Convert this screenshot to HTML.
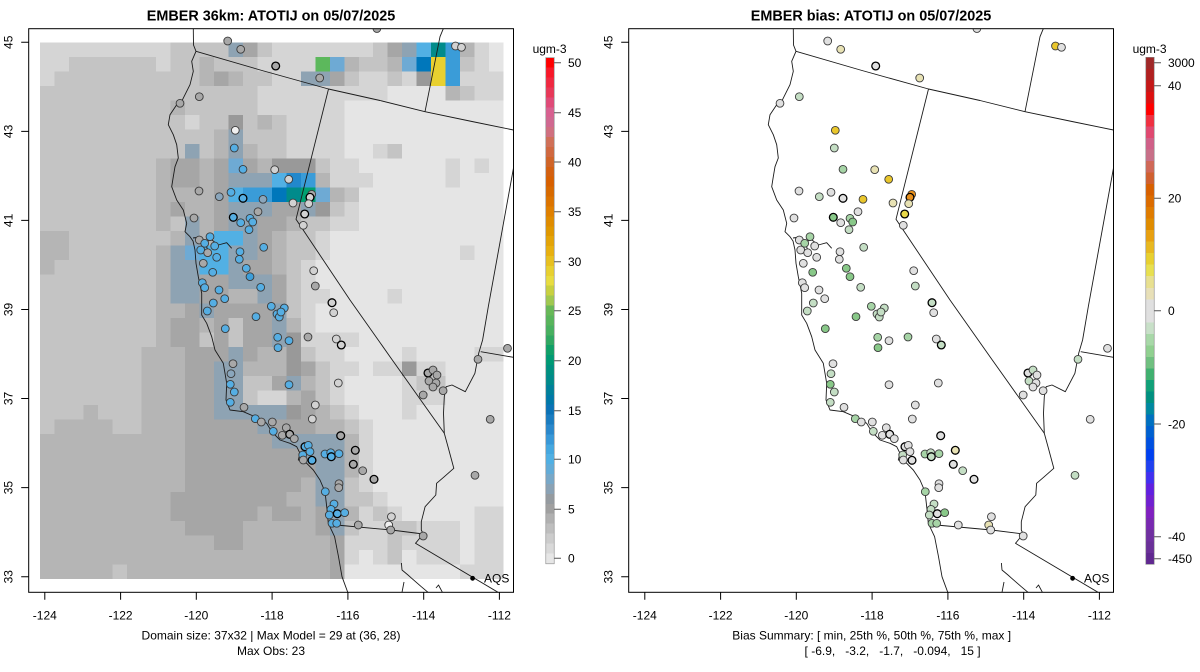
<!DOCTYPE html>
<html><head><meta charset="utf-8"><style>
html,body{margin:0;padding:0;background:#fff;}
svg{display:block;}
text{font-family:"Liberation Sans",Arial,sans-serif;fill:#000;}
.ca{fill:#e5e5e5}.cb{fill:#d5d5d5}.cc{fill:#c4c4c4}.cd{fill:#b5b5b5}.ce{fill:#a6a6a6}.cf{fill:#999999}.cg{fill:#8ea3b3}.ch{fill:#6eaad4}.ci{fill:#52b0e4}.cj{fill:#3a9cd8}.cl{fill:#2288cc}.ck{fill:#0077bb}.cm{fill:#008b8b}.cn{fill:#00a070}.cp{fill:#5cb85c}.cy{fill:#e8d030}
.pt circle{stroke:#3a3a3a;stroke-width:0.9px}
.pt circle.t{stroke:#000;stroke-width:1.3px}
.lb{fill:#55aee3}.ld{fill:#3c9fdb}.lg{fill:#a8a8a8}.ll{fill:#d2d2d2}.lw{fill:#f0f0f0}.lh{fill:#8aa6bc}
.rl{fill:#e0e0e0}.rq{fill:#c4dec4}.rr{fill:#a6d4a6}.rs{fill:#88c888}.ry{fill:#e8e2b4}.ru{fill:#e9c62c}.ro{fill:#e8901c}.rz{fill:#e8d848}
</style></head><body>
<svg xmlns="http://www.w3.org/2000/svg" width="1200" height="672" viewBox="0 0 1200 672">
<defs>
<clipPath id="cp"><rect x="28.7" y="28.7" width="484.8" height="563.6"/></clipPath>
<g id="lines" fill="none" stroke="#1a1a1a" stroke-width="0.9" stroke-linejoin="round">
<path d="M193.3,28.7 L193.5,45 L196,51.3 L191.7,61.3 L193.3,71.3 L190,84.7 L185,94.7 L181.7,101.3 L176.7,104.7 L170,114.7 L168.3,124.7 L173.3,134.7 L176.7,144.7 L178.3,158 L175,166.7 L173.3,176.7 L171.7,186.7 L176.7,200 L183.3,210 L186.7,223.3 L185,231.7 L190,236.7 L193,241 L195,250 L196,263.3 L198.3,276.7 L201.7,293.3 L201.7,303.3 L201.7,315 L206.7,323.3 L211.7,336.7 L215,350 L223.3,363.3 L225,373.3 L226.7,383.3 L226,400 L230,410 L243.3,411.7 L255,416.7 L266.7,423.3 L271.7,431.7 L280,440 L290,443.3 L296.7,446.7 L300,453.3 L298.3,460 L306.7,463.3 L313.3,470 L320,480 L325,491.7 L326.7,506.7 L328.3,523.3 L334.6,536.7 L338.5,556.7 L342,576.7 L348,593"/>
<path d="M193,238 L200,237 L205,241.7 L212,240 L218.3,245 L226.7,242.7 L231.7,248.3 M205,241.7 L207,248 L210,253.3 L206,256"/>
<path d="M196,51.3 L262,70.5 L328.5,89 L380,100.5 L425,111.7 L472,121.5 L513.5,130"/>
<path d="M425,111.7 L440,36.7 L443.3,28.7"/>
<path d="M328.5,89 L296,219.3 L350,300 L390,356.7 L444.3,433.3"/>
<path d="M513.5,168 L488.3,306.7 L482.6,340 L478.7,353.3 L474.9,373.3 L465.3,391.7 L452,385 L446.2,386.7 L444.3,396.7 L443.5,413.3 L444.3,433.3 L448,446.7 L453.8,468.3 L444.3,476.7 L436.6,483.3 L435.8,495 L425.1,506.7 L421.3,521.7 L421.3,530 L423.2,534 L415.5,543.3 L498,592.3"/>
<path d="M480.7,351.7 L513.5,357.3"/>
<path d="M336.3,525 L391.4,530 L423.2,534"/>
<path d="M401.4,563 L402,570 L408,575 L411.7,578.3 L421.3,586.7 L428,592.3 M436,588 L438.5,585 L442.4,592.3 M404,582 L402,592.3"/>
</g>
</defs>
<rect width="1200" height="672" fill="#fff"/>

<!-- LEFT PANEL -->
<g clip-path="url(#cp)">
<g transform="translate(40.2,42.3) scale(14.48,14.5)" shape-rendering="crispEdges">
<rect x="0" y="0" width="32" height="37" class="ca"/>
<path class="cb" d="M0 0h9v1h-9zM16 0h7v1h-7zM30 0h1v1h-1zM0 1h2v1h-2zM8 1h1v1h-1zM15 1h4v1h-4zM30 1h1v1h-1zM0 2h1v1h-1zM16 2h2v1h-2zM22 2h2v1h-2zM25 2h1v1h-1zM29 2h3v1h-3zM15 3h9v1h-9zM30 3h2v1h-2zM15 4h6v1h-6zM10 5h1v1h-1zM17 5h4v1h-4zM17 6h4v1h-4zM17 7h4v1h-4zM23 7h1v1h-1zM20 8h2v1h-2zM28 8h1v1h-1zM30 8h1v1h-1zM20 9h3v1h-3zM28 9h1v1h-1zM21 11h1v1h-1zM20 12h2v1h-2zM19 13h1v1h-1zM19 14h1v1h-1zM29 14h1v1h-1zM18 15h1v1h-1zM18 16h1v1h-1zM18 17h2v1h-2zM24 17h1v1h-1zM18 18h1v1h-1zM18 19h1v1h-1zM18 20h4v1h-4zM19 21h2v1h-2zM25 21h1v1h-1zM30 21h2v1h-2zM20 22h2v1h-2zM23 22h2v1h-2zM26 22h2v1h-2zM20 23h1v1h-1zM25 23h1v1h-1zM15 24h2v1h-2zM20 24h1v1h-1zM25 24h3v1h-3zM21 25h1v1h-1zM25 25h1v1h-1zM22 26h1v5h-1zM23 31h1v1h-1zM22 32h1v1h-1zM24 32h1v1h-1zM30 32h2v5h-2zM22 33h2v1h-2zM26 33h3v1h-3zM21 34h3v1h-3zM25 34h4v1h-4zM21 35h1v1h-1zM23 35h1v1h-1zM26 35h3v1h-3zM29 36h1v1h-1z"/>
<path class="cc" d="M9 0h4v1h-4zM15 0h1v1h-1zM23 0h1v1h-1zM2 1h6v1h-6zM9 1h2v1h-2zM12 1h3v1h-3zM22 1h2v1h-2zM29 1h1v1h-1zM1 2h10v1h-10zM14 2h2v1h-2zM21 2h1v1h-1zM24 2h1v1h-1zM0 3h15v1h-15zM29 3h1v1h-1zM0 4h9v1h-9zM10 4h5v1h-5zM0 5h10v1h-10zM11 5h2v1h-2zM14 5h1v1h-1zM16 5h1v1h-1zM0 6h12v1h-12zM14 6h3v1h-3zM0 7h10v1h-10zM11 7h1v1h-1zM15 7h2v1h-2zM24 7h1v1h-1zM0 8h8v5h-8zM19 8h1v1h-1zM21 10h1v1h-1zM20 11h1v1h-1zM9 12h1v1h-1zM18 12h2v1h-2zM2 13h7v1h-7zM17 13h2v1h-2zM2 14h6v1h-6zM17 14h2v1h-2zM1 15h7v1h-7zM17 15h1v1h-1zM0 16h8v5h-8zM17 16h1v3h-1zM13 19h1v2h-1zM11 20h1v1h-1zM0 21h7v4h-7zM18 21h1v1h-1zM19 22h1v3h-1zM14 23h2v1h-2zM26 23h2v1h-2zM14 24h1v1h-1zM0 25h3v1h-3zM4 25h3v1h-3zM20 25h1v1h-1zM0 26h1v1h-1zM5 26h2v1h-2zM21 26h1v1h-1zM21 30h1v1h-1zM21 31h2v1h-2zM23 32h1v1h-1zM21 33h1v1h-1zM24 33h2v1h-2zM24 34h1v2h-1zM5 36h1v1h-1z"/>
<path class="cd" d="M29 0h1v1h-1zM11 1h1v1h-1zM21 1h1v1h-1zM24 1h1v1h-1zM11 2h1v1h-1zM13 2h1v1h-1zM28 3h1v1h-1zM9 4h1v1h-1zM15 5h1v1h-1zM12 6h1v2h-1zM14 7h1v1h-1zM8 8h1v1h-1zM11 8h1v1h-1zM15 8h1v1h-1zM8 9h1v1h-1zM11 9h1v1h-1zM19 9h1v1h-1zM8 10h4v1h-4zM20 10h1v1h-1zM8 11h1v1h-1zM10 11h2v1h-2zM8 12h1v1h-1zM11 12h1v1h-1zM17 12h1v1h-1zM0 13h2v2h-2zM9 13h1v1h-1zM11 13h1v1h-1zM16 13h1v3h-1zM8 14h1v7h-1zM9 18h1v1h-1zM0 15h1v1h-1zM13 17h2v1h-2zM11 19h1v1h-1zM17 19h1v1h-1zM7 21h3v5h-3zM15 21h2v1h-2zM14 22h3v1h-3zM18 23h1v1h-1zM17 24h1v1h-1zM3 25h1v1h-1zM19 25h1v1h-1zM1 26h4v1h-4zM7 26h3v1h-3zM19 26h2v1h-2zM0 27h10v3h-10zM21 27h1v3h-1zM0 30h10v1h-10zM18 30h1v1h-1zM0 31h9v2h-9zM17 31h2v1h-2zM15 32h1v1h-1zM18 32h1v1h-1zM21 32h1v1h-1zM0 33h10v1h-10zM14 33h5v1h-5zM0 34h12v1h-12zM14 34h6v1h-6zM0 35h20v1h-20zM0 36h5v1h-5zM6 36h14v1h-14z"/>
<path class="ce" d="M14 0h1v1h-1zM24 0h1v1h-1zM12 2h1v1h-1zM20 2h1v1h-1zM9 8h2v2h-2zM12 8h1v5h-1zM14 8h1v1h-1zM9 11h1v1h-1zM16 11h2v1h-2zM15 12h2v1h-2zM15 13h1v2h-1zM14 15h2v1h-2zM11 16h2v2h-2zM16 16h1v2h-1zM10 18h1v1h-1zM12 18h4v1h-4zM9 19h2v2h-2zM12 19h1v2h-1zM14 19h2v2h-2zM10 21h3v1h-3zM14 21h1v1h-1zM10 22h2v4h-2zM18 22h1v1h-1zM16 23h1v1h-1zM18 24h1v2h-1zM10 26h5v1h-5zM16 26h3v1h-3zM10 27h6v1h-6zM10 28h8v1h-8zM10 29h9v1h-9zM10 30h8v1h-8zM9 31h8v1h-8zM9 32h6v1h-6zM16 32h2v1h-2zM19 32h1v2h-1zM10 33h4v1h-4zM12 34h2v1h-2zM20 34h1v3h-1z"/>
<path class="cf" d="M26 2h1v1h-1zM13 5h1v1h-1zM16 8h3v1h-3zM19 11h1v1h-1zM17 20h1v3h-1zM25 22h1v1h-1zM17 25h1v1h-1z"/>
<path class="cg" d="M13 0h1v1h-1zM25 0h1v1h-1zM18 2h2v1h-2zM13 6h1v2h-1zM10 7h1v1h-1zM13 9h3v1h-3zM13 11h3v1h-3zM18 11h1v1h-1zM10 12h1v2h-1zM13 12h2v1h-2zM14 13h1v1h-1zM9 14h1v1h-1zM13 14h2v1h-2zM9 15h2v3h-2zM13 15h1v1h-1zM13 16h3v1h-3zM15 17h1v1h-1zM11 18h1v1h-1zM16 18h1v3h-1zM13 21h1v1h-1zM12 22h2v3h-2zM17 23h1v1h-1zM12 25h5v1h-5zM15 26h1v1h-1zM16 27h5v1h-5zM18 28h3v1h-3zM19 29h2v3h-2zM20 32h1v2h-1z"/>
<path class="ch" d="M20 1h1v1h-1zM25 1h1v1h-1zM13 8h1v1h-1zM19 10h1v1h-1zM10 14h1v1h-1z"/>
<path class="ci" d="M26 0h1v1h-1zM16 9h1v1h-1zM13 10h1v1h-1zM12 13h2v1h-2zM11 14h2v2h-2z"/>
<path class="cj" d="M28 0h1v3h-1zM18 9h1v1h-1zM14 10h2v1h-2z"/>
<path class="cl" d="M17 9h1v1h-1z"/>
<path class="ck" d="M26 1h1v1h-1zM16 10h1v1h-1z"/>
<path class="cm" d="M27 0h1v1h-1zM17 10h1v1h-1z"/>
<path class="cn" d="M18 10h1v1h-1z"/>
<path class="cp" d="M19 1h1v1h-1z"/>
<path class="cy" d="M27 1h1v2h-1z"/>
</g>
<use href="#lines"/>
<g class="pt">
<circle cx="227.7" cy="41" r="3.9" class="lg"/><circle cx="240.7" cy="49.3" r="3.9" class="lg"/><circle cx="275.7" cy="66" r="3.9" class="lg t"/><circle cx="319.7" cy="78" r="3.9" class="lg"/><circle cx="376.9" cy="28.5" r="3.9" class="lg"/>
<circle cx="455.5" cy="46" r="3.9" class="ll"/><circle cx="461.5" cy="47.3" r="3.9" class="ll"/><circle cx="199.3" cy="96.7" r="3.9" class="lg"/><circle cx="180" cy="103.3" r="3.9" class="lg"/><circle cx="235.3" cy="130.3" r="3.9" class="lw"/>
<circle cx="234.3" cy="148" r="3.9" class="lb"/><circle cx="243" cy="169.3" r="3.9" class="lb"/><circle cx="274.7" cy="169.7" r="3.9" class="ll"/><circle cx="288.7" cy="179.3" r="3.9" class="ll"/><circle cx="199" cy="191" r="3.9" class="lg"/>
<circle cx="219.3" cy="196.7" r="3.9" class="lh"/><circle cx="231" cy="192.3" r="3.9" class="lb"/><circle cx="243" cy="198.3" r="3.9" class="lb t"/><circle cx="263" cy="199.3" r="3.9" class="lh"/><circle cx="293" cy="203" r="3.9" class="ll"/>
<circle cx="311.7" cy="194.3" r="3.9" class="lg"/><circle cx="310" cy="197.3" r="3.9" class="ll t"/><circle cx="308.7" cy="203.7" r="3.9" class="ll"/><circle cx="304.7" cy="214" r="3.9" class="ll t"/><circle cx="303.3" cy="225.3" r="3.9" class="ll"/>
<circle cx="258" cy="211.7" r="3.9" class="lg"/><circle cx="194" cy="218" r="3.9" class="lg"/><circle cx="233.3" cy="217.3" r="3.9" class="lb t"/><circle cx="240.7" cy="222.7" r="3.9" class="lb"/><circle cx="250" cy="218.3" r="3.9" class="lb"/>
<circle cx="252.7" cy="222" r="3.9" class="lb"/><circle cx="249" cy="229.7" r="3.9" class="lb"/><circle cx="199.3" cy="240" r="3.9" class="lg"/><circle cx="204.7" cy="243.3" r="3.9" class="lb"/><circle cx="210" cy="236.7" r="3.9" class="lb"/>
<circle cx="214.7" cy="246" r="3.9" class="lb"/><circle cx="200.7" cy="250" r="3.9" class="lb"/><circle cx="207.7" cy="252.7" r="3.9" class="lg"/><circle cx="216.7" cy="257.3" r="3.9" class="lb"/><circle cx="203.3" cy="263.3" r="3.9" class="lg"/>
<circle cx="240" cy="251.7" r="3.9" class="lb"/><circle cx="239.3" cy="259.3" r="3.9" class="lb"/><circle cx="263.7" cy="247.3" r="3.9" class="lb"/><circle cx="212.7" cy="272.3" r="3.9" class="lb"/><circle cx="246.3" cy="268.3" r="3.9" class="lb"/>
<circle cx="250" cy="276.7" r="3.9" class="ld"/><circle cx="202.3" cy="282.7" r="3.9" class="lb"/><circle cx="204.7" cy="287.7" r="3.9" class="lb"/><circle cx="219" cy="290" r="3.9" class="lb"/><circle cx="260.7" cy="287.3" r="3.9" class="lb"/>
<circle cx="313.7" cy="270.7" r="3.9" class="ll"/><circle cx="315.3" cy="286" r="3.9" class="lg"/><circle cx="224.7" cy="298.7" r="3.9" class="lb"/><circle cx="213.3" cy="303" r="3.9" class="lb"/><circle cx="207.3" cy="311" r="3.9" class="lb"/>
<circle cx="271.3" cy="306.3" r="3.9" class="lb"/><circle cx="284.3" cy="308" r="3.9" class="lb"/><circle cx="256" cy="316.7" r="3.9" class="lb"/><circle cx="277" cy="314" r="3.9" class="lb"/><circle cx="279.3" cy="317" r="3.9" class="lb"/>
<circle cx="281" cy="312" r="3.9" class="lb"/><circle cx="332" cy="302.7" r="3.9" class="ll t"/><circle cx="333.7" cy="312.7" r="3.9" class="ll"/><circle cx="225.3" cy="328.7" r="3.9" class="lb"/><circle cx="277.7" cy="337.3" r="3.9" class="lb"/>
<circle cx="289" cy="340.7" r="3.9" class="lb"/><circle cx="278" cy="347.7" r="3.9" class="lb"/><circle cx="308" cy="337" r="3.9" class="lg"/><circle cx="336.3" cy="339" r="3.9" class="ll"/><circle cx="341.3" cy="345" r="3.9" class="ll t"/>
<circle cx="233" cy="363.7" r="3.9" class="lg"/><circle cx="231" cy="373.7" r="3.9" class="lh"/><circle cx="230.3" cy="384.3" r="3.9" class="lb"/><circle cx="234.3" cy="392" r="3.9" class="lb"/><circle cx="230.3" cy="402.3" r="3.9" class="lb"/>
<circle cx="244" cy="407.3" r="3.9" class="lg"/><circle cx="289" cy="384.7" r="3.9" class="lb"/><circle cx="338.3" cy="383" r="3.9" class="ll"/><circle cx="315.3" cy="405" r="3.9" class="ll"/><circle cx="312.3" cy="419" r="3.9" class="ll"/>
<circle cx="255.3" cy="418.7" r="3.9" class="lb"/><circle cx="261.3" cy="422" r="3.9" class="lg"/><circle cx="272.3" cy="422" r="3.9" class="lg"/><circle cx="273.3" cy="431.3" r="3.9" class="lb"/><circle cx="286.3" cy="427.7" r="3.9" class="lg"/>
<circle cx="282.3" cy="435.3" r="3.9" class="lg"/><circle cx="289.7" cy="434.3" r="3.9" class="lg t"/><circle cx="294.3" cy="438.7" r="3.9" class="lg"/><circle cx="340.7" cy="435.7" r="3.9" class="lg t"/><circle cx="305" cy="446.7" r="3.9" class="lb t"/>
<circle cx="308.3" cy="445.3" r="3.9" class="lb"/><circle cx="310" cy="451.7" r="3.9" class="lb"/><circle cx="302.7" cy="455" r="3.9" class="lb"/><circle cx="303.3" cy="460" r="3.9" class="lg"/><circle cx="312" cy="460.3" r="3.9" class="lb t"/>
<circle cx="325" cy="454" r="3.9" class="lb"/><circle cx="330.7" cy="452.7" r="3.9" class="lb"/><circle cx="331.3" cy="456.7" r="3.9" class="lb t"/><circle cx="339" cy="453.7" r="3.9" class="lb"/><circle cx="355.3" cy="450.3" r="3.9" class="lg t"/>
<circle cx="353.3" cy="464.3" r="3.9" class="lg t"/><circle cx="362.7" cy="470.7" r="3.9" class="lg"/><circle cx="374" cy="479.3" r="3.9" class="lg t"/><circle cx="339" cy="483.7" r="3.9" class="lg"/><circle cx="338.7" cy="487.7" r="3.9" class="lg"/>
<circle cx="325.3" cy="491.7" r="3.9" class="lb"/><circle cx="334" cy="504" r="3.9" class="lb"/><circle cx="331" cy="509.3" r="3.9" class="lb"/><circle cx="329.3" cy="515" r="3.9" class="lb"/><circle cx="337.3" cy="513.7" r="3.9" class="lb t"/>
<circle cx="344.7" cy="512.7" r="3.9" class="lb"/><circle cx="332" cy="523.3" r="3.9" class="lb"/><circle cx="336.7" cy="523.3" r="3.9" class="lb"/><circle cx="358.3" cy="525" r="3.9" class="lg"/><circle cx="391.4" cy="516.7" r="3.9" class="ll"/>
<circle cx="388.7" cy="525" r="3.9" class="lw"/><circle cx="390.7" cy="530" r="3.9" class="lg"/><circle cx="423.2" cy="536" r="3.9" class="lg"/>
<circle cx="428" cy="373" r="3.9" class="lg t"/><circle cx="433" cy="370" r="3.9" class="lg"/><circle cx="437" cy="375" r="3.9" class="lg"/><circle cx="429" cy="381" r="3.9" class="lg"/><circle cx="436" cy="383" r="3.9" class="lg"/><circle cx="433" cy="387" r="3.9" class="lg"/>
<circle cx="423.2" cy="395" r="3.9" class="lg"/><circle cx="443.1" cy="390.7" r="3.9" class="lg"/><circle cx="478" cy="359.3" r="3.9" class="lg"/><circle cx="507.5" cy="348.3" r="3.9" class="lg"/><circle cx="490.2" cy="419.3" r="3.9" class="lg"/><circle cx="475" cy="475.3" r="3.9" class="lg"/>
</g>
</g>

<!-- RIGHT PANEL -->
<g transform="translate(600,0)"><g clip-path="url(#cp)">
<use href="#lines"/>
<g class="pt">
<circle cx="227.7" cy="41" r="3.9" class="rl"/><circle cx="240.7" cy="49.3" r="3.9" class="ry"/><circle cx="275.7" cy="66" r="3.9" class="rl t"/><circle cx="319.7" cy="78" r="3.9" class="ry"/><circle cx="376.9" cy="28.5" r="3.9" class="rl"/>
<circle cx="455.5" cy="46" r="3.9" class="ru"/><circle cx="461.5" cy="47.3" r="3.9" class="rl"/><circle cx="199.3" cy="96.7" r="3.9" class="rq"/><circle cx="180" cy="103.3" r="3.9" class="rl"/><circle cx="235.3" cy="130.3" r="3.9" class="ru"/>
<circle cx="234.3" cy="148" r="3.9" class="rq"/><circle cx="243" cy="169.3" r="3.9" class="rr"/><circle cx="274.7" cy="169.7" r="3.9" class="ry"/><circle cx="288.7" cy="179.3" r="3.9" class="ru"/><circle cx="199" cy="191" r="3.9" class="rl"/>
<circle cx="219.3" cy="196.7" r="3.9" class="rq"/><circle cx="231" cy="192.3" r="3.9" class="rl"/><circle cx="243" cy="198.3" r="3.9" class="rl t"/><circle cx="263" cy="199.3" r="3.9" class="ru"/><circle cx="293" cy="203" r="3.9" class="ry"/>
<circle cx="311.7" cy="194.3" r="3.9" class="ro"/><circle cx="310" cy="197.3" r="3.9" class="ro t"/><circle cx="308.7" cy="203.7" r="3.9" class="ry"/><circle cx="304.7" cy="214" r="3.9" class="rz t"/><circle cx="303.3" cy="225.3" r="3.9" class="rl"/>
<circle cx="258" cy="211.7" r="3.9" class="rl"/><circle cx="194" cy="218" r="3.9" class="rl"/><circle cx="233.3" cy="217.3" r="3.9" class="rs t"/><circle cx="240.7" cy="222.7" r="3.9" class="rl"/><circle cx="250" cy="218.3" r="3.9" class="rr"/>
<circle cx="252.7" cy="222" r="3.9" class="rs"/><circle cx="249" cy="229.7" r="3.9" class="rq"/><circle cx="199.3" cy="240" r="3.9" class="rl"/><circle cx="204.7" cy="243.3" r="3.9" class="rr"/><circle cx="210" cy="236.7" r="3.9" class="rr"/>
<circle cx="214.7" cy="246" r="3.9" class="rl"/><circle cx="200.7" cy="250" r="3.9" class="rl"/><circle cx="207.7" cy="252.7" r="3.9" class="rl"/><circle cx="216.7" cy="257.3" r="3.9" class="rl"/><circle cx="203.3" cy="263.3" r="3.9" class="rl"/>
<circle cx="240" cy="251.7" r="3.9" class="rl"/><circle cx="239.3" cy="259.3" r="3.9" class="rl"/><circle cx="263.7" cy="247.3" r="3.9" class="rq"/><circle cx="212.7" cy="272.3" r="3.9" class="rs"/><circle cx="246.3" cy="268.3" r="3.9" class="rs"/>
<circle cx="250" cy="276.7" r="3.9" class="rs"/><circle cx="202.3" cy="282.7" r="3.9" class="rl"/><circle cx="204.7" cy="287.7" r="3.9" class="rl"/><circle cx="219" cy="290" r="3.9" class="rl"/><circle cx="260.7" cy="287.3" r="3.9" class="rq"/>
<circle cx="313.7" cy="270.7" r="3.9" class="rl"/><circle cx="315.3" cy="286" r="3.9" class="rq"/><circle cx="224.7" cy="298.7" r="3.9" class="rl"/><circle cx="213.3" cy="303" r="3.9" class="rq"/><circle cx="207.3" cy="311" r="3.9" class="rq"/>
<circle cx="271.3" cy="306.3" r="3.9" class="rr"/><circle cx="284.3" cy="308" r="3.9" class="rq"/><circle cx="256" cy="316.7" r="3.9" class="rs"/><circle cx="277" cy="314" r="3.9" class="rq"/><circle cx="279.3" cy="317" r="3.9" class="rq"/>
<circle cx="281" cy="312" r="3.9" class="rq"/><circle cx="332" cy="302.7" r="3.9" class="rq t"/><circle cx="333.7" cy="312.7" r="3.9" class="rl"/><circle cx="225.3" cy="328.7" r="3.9" class="rs"/><circle cx="277.7" cy="337.3" r="3.9" class="rr"/>
<circle cx="289" cy="340.7" r="3.9" class="rl"/><circle cx="278" cy="347.7" r="3.9" class="rs"/><circle cx="308" cy="337" r="3.9" class="rr"/><circle cx="336.3" cy="339" r="3.9" class="rl"/><circle cx="341.3" cy="345" r="3.9" class="rq t"/>
<circle cx="233" cy="363.7" r="3.9" class="rl"/><circle cx="231" cy="373.7" r="3.9" class="rq"/><circle cx="230.3" cy="384.3" r="3.9" class="rs"/><circle cx="234.3" cy="392" r="3.9" class="rq"/><circle cx="230.3" cy="402.3" r="3.9" class="rq"/>
<circle cx="244" cy="407.3" r="3.9" class="rl"/><circle cx="289" cy="384.7" r="3.9" class="rl"/><circle cx="338.3" cy="383" r="3.9" class="rl"/><circle cx="315.3" cy="405" r="3.9" class="rl"/><circle cx="312.3" cy="419" r="3.9" class="rl"/>
<circle cx="255.3" cy="418.7" r="3.9" class="rr"/><circle cx="261.3" cy="422" r="3.9" class="rl"/><circle cx="272.3" cy="422" r="3.9" class="rl"/><circle cx="273.3" cy="431.3" r="3.9" class="rq"/><circle cx="286.3" cy="427.7" r="3.9" class="rl"/>
<circle cx="282.3" cy="435.3" r="3.9" class="rl"/><circle cx="289.7" cy="434.3" r="3.9" class="rl t"/><circle cx="294.3" cy="438.7" r="3.9" class="rl"/><circle cx="340.7" cy="435.7" r="3.9" class="rl t"/><circle cx="305" cy="446.7" r="3.9" class="rl t"/>
<circle cx="308.3" cy="445.3" r="3.9" class="rl"/><circle cx="310" cy="451.7" r="3.9" class="rl"/><circle cx="302.7" cy="455" r="3.9" class="rq"/><circle cx="303.3" cy="460" r="3.9" class="rl"/><circle cx="312" cy="460.3" r="3.9" class="rl t"/>
<circle cx="325" cy="454" r="3.9" class="rr"/><circle cx="330.7" cy="452.7" r="3.9" class="rq"/><circle cx="331.3" cy="456.7" r="3.9" class="rq t"/><circle cx="339" cy="453.7" r="3.9" class="rr"/><circle cx="355.3" cy="450.3" r="3.9" class="ry t"/>
<circle cx="353.3" cy="464.3" r="3.9" class="rl t"/><circle cx="362.7" cy="470.7" r="3.9" class="rq"/><circle cx="374" cy="479.3" r="3.9" class="rl t"/><circle cx="339" cy="483.7" r="3.9" class="rl"/><circle cx="338.7" cy="487.7" r="3.9" class="rl"/>
<circle cx="325.3" cy="491.7" r="3.9" class="rr"/><circle cx="334" cy="504" r="3.9" class="rq"/><circle cx="331" cy="509.3" r="3.9" class="rq"/><circle cx="329.3" cy="515" r="3.9" class="rq"/><circle cx="337.3" cy="513.7" r="3.9" class="rl t"/>
<circle cx="344.7" cy="512.7" r="3.9" class="rs"/><circle cx="332" cy="523.3" r="3.9" class="rr"/><circle cx="336.7" cy="523.3" r="3.9" class="rr"/><circle cx="358.3" cy="525" r="3.9" class="rl"/><circle cx="391.4" cy="516.7" r="3.9" class="rl"/>
<circle cx="388.7" cy="525" r="3.9" class="ry"/><circle cx="390.7" cy="530" r="3.9" class="rl"/><circle cx="423.2" cy="536" r="3.9" class="rl"/>
<circle cx="428" cy="373" r="3.9" class="rl t"/><circle cx="433" cy="370" r="3.9" class="rq"/><circle cx="437" cy="375" r="3.9" class="rl"/><circle cx="429" cy="381" r="3.9" class="rq"/><circle cx="436" cy="383" r="3.9" class="rl"/><circle cx="433" cy="387" r="3.9" class="rl"/>
<circle cx="423.2" cy="395" r="3.9" class="rl"/><circle cx="443.1" cy="390.7" r="3.9" class="rl"/><circle cx="478" cy="359.3" r="3.9" class="rq"/><circle cx="507.5" cy="348.3" r="3.9" class="rl"/><circle cx="490.2" cy="419.3" r="3.9" class="rl"/><circle cx="475" cy="475.3" r="3.9" class="rq"/>
</g>
</g></g>

<!-- boxes -->
<rect x="28.7" y="28.7" width="484.8" height="563.6" fill="none" stroke="#000" stroke-width="1"/>
<rect x="628.7" y="28.7" width="484.8" height="563.6" fill="none" stroke="#000" stroke-width="1"/>

<!-- ticks -->
<path fill="none" stroke="#000" stroke-width="1" d="M44.8 592.3v7.5M120.6 592.3v7.5M196.3 592.3v7.5M272.1 592.3v7.5M347.9 592.3v7.5M423.7 592.3v7.5M499.4 592.3v7.5M644.8 592.3v7.5M720.6 592.3v7.5M796.3 592.3v7.5M872.1 592.3v7.5M947.9 592.3v7.5M1023.7 592.3v7.5M1099.4 592.3v7.5M21.2 42.3h7.5M21.2 131.4h7.5M21.2 220.4h7.5M21.2 309.5h7.5M21.2 398.5h7.5M21.2 487.6h7.5M21.2 576.7h7.5M621.2 42.3h7.5M621.2 131.4h7.5M621.2 220.4h7.5M621.2 309.5h7.5M621.2 398.5h7.5M621.2 487.6h7.5M621.2 576.7h7.5"/>

<!-- AQS -->
<circle cx="472.6" cy="578.3" r="2.4" fill="#000"/>
<text x="484" y="582.5" font-size="12">AQS</text>
<circle cx="1072.6" cy="578.3" r="2.4" fill="#000"/>
<text x="1084" y="582.5" font-size="12">AQS</text>

<!-- titles -->
<text x="271" y="20.3" font-size="14.4" font-weight="bold" text-anchor="middle">EMBER 36km: ATOTIJ on 05/07/2025</text>
<text x="871" y="20.3" font-size="14.4" font-weight="bold" text-anchor="middle">EMBER bias: ATOTIJ on 05/07/2025</text>

<g font-size="12" text-anchor="middle">
<text x="44.8" y="619.3">-124</text><text x="120.6" y="619.3">-122</text><text x="196.3" y="619.3">-120</text><text x="272.1" y="619.3">-118</text><text x="347.9" y="619.3">-116</text><text x="423.7" y="619.3">-114</text><text x="499.4" y="619.3">-112</text>
<text x="644.8" y="619.3">-124</text><text x="720.6" y="619.3">-122</text><text x="796.3" y="619.3">-120</text><text x="872.1" y="619.3">-118</text><text x="947.9" y="619.3">-116</text><text x="1023.7" y="619.3">-114</text><text x="1099.4" y="619.3">-112</text>
<text transform="translate(12.5,42.3) rotate(-90)">45</text>
<text transform="translate(12.5,131.4) rotate(-90)">43</text>
<text transform="translate(12.5,220.4) rotate(-90)">41</text>
<text transform="translate(12.5,309.5) rotate(-90)">39</text>
<text transform="translate(12.5,398.5) rotate(-90)">37</text>
<text transform="translate(12.5,487.6) rotate(-90)">35</text>
<text transform="translate(12.5,576.7) rotate(-90)">33</text>
<text transform="translate(612.5,42.3) rotate(-90)">45</text>
<text transform="translate(612.5,131.4) rotate(-90)">43</text>
<text transform="translate(612.5,220.4) rotate(-90)">41</text>
<text transform="translate(612.5,309.5) rotate(-90)">39</text>
<text transform="translate(612.5,398.5) rotate(-90)">37</text>
<text transform="translate(612.5,487.6) rotate(-90)">35</text>
<text transform="translate(612.5,576.7) rotate(-90)">33</text>
<text x="271" y="639.5">Domain size: 37x32 | Max Model = 29 at (36, 28)</text>
<text x="271" y="655">Max Obs: 23</text>
<text x="871.7" y="639.5">Bias Summary: [ min, 25th %, 50th %, 75th %, max ]</text>
<text x="892.6" y="655" xml:space="preserve" style="white-space:pre">[ -6.9,   -3.2,   -1.7,   -0.094,   15 ]</text>
<text x="549.6" y="53">ugm-3</text>
<text x="1149.6" y="53">ugm-3</text>
</g>

<!-- left colorbar -->
<g transform="translate(545.8,57.75) scale(1,9.912)" shape-rendering="crispEdges">
<rect y="0" width="8.4" height="1.05" fill="#ff0000"/><rect y="1" width="8.4" height="1.05" fill="#f81828"/><rect y="2" width="8.4" height="1.05" fill="#f02840"/><rect y="3" width="8.4" height="1.05" fill="#e83858"/><rect y="4" width="8.4" height="1.05" fill="#e04a78"/>
<rect y="5" width="8.4" height="1.05" fill="#d86090"/><rect y="6" width="8.4" height="1.05" fill="#d06890"/><rect y="7" width="8.4" height="1.05" fill="#d07080"/><rect y="8" width="8.4" height="1.05" fill="#d07058"/><rect y="9" width="8.4" height="1.05" fill="#d06840"/>
<rect y="10" width="8.4" height="1.05" fill="#d06428"/><rect y="11" width="8.4" height="1.05" fill="#d46010"/><rect y="12" width="8.4" height="1.05" fill="#d86000"/><rect y="13" width="8.4" height="1.05" fill="#d86a00"/><rect y="14" width="8.4" height="1.05" fill="#dc7400"/>
<rect y="15" width="8.4" height="1.05" fill="#e08000"/><rect y="16" width="8.4" height="1.05" fill="#e08c00"/><rect y="17" width="8.4" height="1.05" fill="#e09800"/><rect y="18" width="8.4" height="1.05" fill="#e4a408"/><rect y="19" width="8.4" height="1.05" fill="#e8b010"/>
<rect y="20" width="8.4" height="1.05" fill="#e8c020"/><rect y="21" width="8.4" height="1.05" fill="#e8d030"/><rect y="22" width="8.4" height="1.05" fill="#e8dc40"/><rect y="23" width="8.4" height="1.05" fill="#c8d040"/><rect y="24" width="8.4" height="1.05" fill="#a0c850"/>
<rect y="25" width="8.4" height="1.05" fill="#68b858"/><rect y="26" width="8.4" height="1.05" fill="#58b45c"/><rect y="27" width="8.4" height="1.05" fill="#48b060"/><rect y="28" width="8.4" height="1.05" fill="#30a862"/><rect y="29" width="8.4" height="1.05" fill="#10a068"/>
<rect y="30" width="8.4" height="1.05" fill="#009a74"/><rect y="31" width="8.4" height="1.05" fill="#009080"/><rect y="32" width="8.4" height="1.05" fill="#008a8a"/><rect y="33" width="8.4" height="1.05" fill="#00809a"/><rect y="34" width="8.4" height="1.05" fill="#0078a8"/>
<rect y="35" width="8.4" height="1.05" fill="#0a72b6"/><rect y="36" width="8.4" height="1.05" fill="#1a7cc0"/><rect y="37" width="8.4" height="1.05" fill="#2a88cc"/><rect y="38" width="8.4" height="1.05" fill="#3898d8"/><rect y="39" width="8.4" height="1.05" fill="#45a8e0"/>
<rect y="40" width="8.4" height="1.05" fill="#50b0e4"/><rect y="41" width="8.4" height="1.05" fill="#62acd8"/><rect y="42" width="8.4" height="1.05" fill="#78a8c8"/><rect y="43" width="8.4" height="1.05" fill="#8aa2b5"/><rect y="44" width="8.4" height="1.05" fill="#959ba0"/>
<rect y="45" width="8.4" height="1.05" fill="#a0a0a0"/><rect y="46" width="8.4" height="1.05" fill="#b0b0b0"/><rect y="47" width="8.4" height="1.05" fill="#bebebe"/><rect y="48" width="8.4" height="1.05" fill="#cccccc"/><rect y="49" width="8.4" height="1.05" fill="#d9d9d9"/>
<rect y="50" width="8.4" height="1" fill="#e6e6e6"/>
</g>
<rect x="545.8" y="57.5" width="8.4" height="506.3" fill="none" stroke="#888" stroke-width="0.6"/>

<!-- right colorbar -->
<g transform="translate(1145.8,57.3) scale(1,11.523)" shape-rendering="crispEdges">
<rect y="0" width="8.4" height="1.05" fill="#a02828"/><rect y="1" width="8.4" height="1.05" fill="#b02020"/><rect y="2" width="8.4" height="1.05" fill="#c41818"/><rect y="3" width="8.4" height="1.05" fill="#dc1010"/><rect y="4" width="8.4" height="1.05" fill="#ff0000"/>
<rect y="5" width="8.4" height="1.05" fill="#f03040"/><rect y="6" width="8.4" height="1.05" fill="#e04870"/><rect y="7" width="8.4" height="1.05" fill="#d06088"/><rect y="8" width="8.4" height="1.05" fill="#c87088"/><rect y="9" width="8.4" height="1.05" fill="#d06858"/>
<rect y="10" width="8.4" height="1.05" fill="#d06030"/><rect y="11" width="8.4" height="1.05" fill="#d86000"/><rect y="12" width="8.4" height="1.05" fill="#dc6c00"/><rect y="13" width="8.4" height="1.05" fill="#e07c00"/><rect y="14" width="8.4" height="1.05" fill="#e08c00"/>
<rect y="15" width="8.4" height="1.05" fill="#e8a010"/><rect y="16" width="8.4" height="1.05" fill="#e8b820"/><rect y="17" width="8.4" height="1.05" fill="#e8d030"/><rect y="18" width="8.4" height="1.05" fill="#e8e050"/><rect y="19" width="8.4" height="1.05" fill="#e8e090"/>
<rect y="20" width="8.4" height="1.05" fill="#e8e0b8"/><rect y="21" width="8.4" height="2.05" fill="#e0e0e0"/><rect y="23" width="8.4" height="1.05" fill="#c8e0c8"/><rect y="24" width="8.4" height="1.05" fill="#a8d8a8"/>
<rect y="25" width="8.4" height="1.05" fill="#90d090"/><rect y="26" width="8.4" height="1.05" fill="#70c080"/><rect y="27" width="8.4" height="1.05" fill="#40b070"/><rect y="28" width="8.4" height="1.05" fill="#10a078"/><rect y="29" width="8.4" height="1.05" fill="#009080"/>
<rect y="30" width="8.4" height="1.05" fill="#0088a0"/><rect y="31" width="8.4" height="1.05" fill="#0070c0"/><rect y="32" width="8.4" height="1.05" fill="#0060d0"/><rect y="33" width="8.4" height="1.05" fill="#0050e0"/><rect y="34" width="8.4" height="1.05" fill="#0040f0"/>
<rect y="35" width="8.4" height="1.05" fill="#2040f0"/><rect y="36" width="8.4" height="1.05" fill="#4030f0"/><rect y="37" width="8.4" height="1.05" fill="#6020e0"/><rect y="38" width="8.4" height="1.05" fill="#7020d0"/><rect y="39" width="8.4" height="1.05" fill="#8020c0"/>
<rect y="40" width="8.4" height="1.05" fill="#7828b0"/><rect y="41" width="8.4" height="1.05" fill="#7030a0"/><rect y="42" width="8.4" height="1.05" fill="#6a3098"/><rect y="43" width="8.4" height="1" fill="#602890"/>
</g>
<rect x="1145.8" y="57.3" width="8.4" height="507" fill="none" stroke="#888" stroke-width="0.6"/>

<!-- colorbar ticks -->
<path fill="none" stroke="#555" stroke-width="1" d="M554.2 62.7h6.8M554.2 112.7h6.8M554.2 162h6.8M554.2 211.7h6.8M554.2 261.7h6.8M554.2 310.7h6.8M554.2 360.7h6.8M554.2 410.7h6.8M554.2 459.3h6.8M554.2 509.3h6.8M554.2 558.3h6.8M1154.2 62.7h6.8M1154.2 85.7h6.8M1154.2 198.3h6.8M1154.2 310.7h6.8M1154.2 424h6.8M1154.2 536.7h6.8M1154.2 558.7h6.8"/>

<g font-size="12">
<text x="568" y="67">50</text><text x="568" y="117">45</text><text x="568" y="166.3">40</text><text x="568" y="216">35</text><text x="568" y="266">30</text><text x="568" y="315">25</text><text x="568" y="365">20</text><text x="568" y="415">15</text><text x="568" y="463.6">10</text><text x="568" y="513.6">5</text><text x="568" y="562.6">0</text>
<text x="1168" y="67">3000</text><text x="1168" y="90">40</text><text x="1168" y="202.6">20</text><text x="1168" y="315">0</text><text x="1168" y="428.3">-20</text><text x="1168" y="541">-40</text><text x="1168" y="563">-450</text>
</g>
</svg>
</body></html>
